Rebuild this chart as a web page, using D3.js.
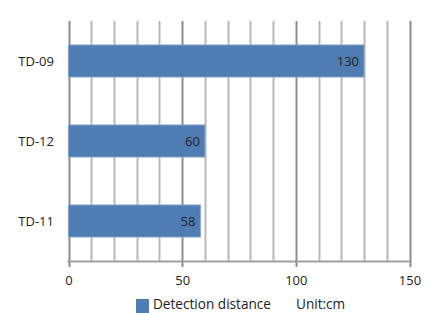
<!DOCTYPE html>
<html>
<head>
<meta charset="utf-8">
<script src="https://cdn.jsdelivr.net/npm/d3@7"></script>
<style>
    body { margin: 0; background: #fff; }
    svg text { font-family: "Open Sans", "Noto Sans", sans-serif; fill: #222; }
</style>
</head>
<body>
<svg id="chart" width="437" height="313"></svg>
<script>
(function () {

    // data
    var categories = ['TD-09', 'TD-12', 'TD-11'];
    var distances = [130, 60, 58];
    var xTicks = [0, 50, 100, 150];
    var seriesName = 'Detection distance';
    var unitLabel = 'Unit:cm';

    var svg = d3.select('#chart'),
        left = 68.5, right = 409.5, top = 21, bottom = 261;

    var x = d3.scaleLinear().domain([0, 150]).range([left, right]),
        y = d3.scaleBand().domain(categories).range([top, bottom]).paddingInner(0.6).paddingOuter(0.3);

    // minor gridlines every 10
    svg.append('g')
        .selectAll('line')
        .data(d3.range(10, 150, 10).filter(function (v) { return v % 50; }))
        .enter()
        .append('line')
        .attr('x1', function (d) { return Math.round(x(d)) + 0.5; })
        .attr('x2', function (d) { return Math.round(x(d)) + 0.5; })
        .attr('y1', top)
        .attr('y2', bottom)
        .attr('stroke', '#b8b8b8')
        .attr('stroke-width', 2);

    // major gridlines
    svg.append('g')
        .selectAll('line')
        .data(xTicks)
        .enter()
        .append('line')
        .attr('x1', function (d) { return Math.round(x(d)) + 0.5; })
        .attr('x2', function (d) { return Math.round(x(d)) + 0.5; })
        .attr('y1', top)
        .attr('y2', bottom + 6)
        .attr('stroke', '#8c8c8c')
        .attr('stroke-width', 2);

    // bottom axis line
    svg.append('line')
        .attr('x1', left - 1).attr('x2', right + 1)
        .attr('y1', bottom + 0.5).attr('y2', bottom + 0.5)
        .attr('stroke', '#a0a0a0')
        .attr('stroke-width', 2);

    var xAxis = svg.append('g')
        .attr('transform', 'translate(0,' + (bottom + 6) + ')')
        .call(d3.axisBottom(x).tickValues(xTicks).tickSize(0).tickPadding(9));
    xAxis.select('.domain').remove();
    xAxis.selectAll('text').style('font-size', '13px').attr('fill', '#222');

    // bars
    var bars = svg.append('g');
    bars.selectAll('rect')
        .data(distances)
        .enter()
        .append('rect')
        .attr('x', x(0))
        .attr('y', function (d, i) { return y(categories[i]); })
        .attr('width', function (d) { return x(d) - x(0); })
        .attr('height', y.bandwidth())
        .attr('fill', '#4f7db3')
        .attr('stroke', '#7ea0c9')
        .attr('stroke-width', 1);

    bars.selectAll('text')
        .data(distances)
        .enter()
        .append('text')
        .attr('x', function (d) { return x(d) - 5; })
        .attr('y', function (d, i) { return y(categories[i]) + y.bandwidth() / 2; })
        .attr('dy', '0.35em')
        .attr('text-anchor', 'end')
        .style('font-size', '13px')
        .text(function (d) { return d; });

    // category labels
    svg.append('g')
        .selectAll('text')
        .data(categories)
        .enter()
        .append('text')
        .attr('x', 54)
        .attr('y', function (d) { return y(d) + y.bandwidth() / 2; })
        .attr('dy', '0.35em')
        .attr('text-anchor', 'end')
        .style('font-size', '13px')
        .text(function (d) { return d; });

    // legend
    var legend = svg.append('g');
    legend.append('rect')
        .attr('x', 136).attr('y', 299)
        .attr('width', 13).attr('height', 14)
        .attr('fill', '#4f7db3');
    legend.append('text')
        .attr('x', 153).attr('y', 309)
        .style('font-size', '13.6px')
        .text(seriesName);
    legend.append('text')
        .attr('x', 296).attr('y', 309)
        .style('font-size', '13.6px')
        .text(unitLabel);

})();
</script>
</body>
</html>
